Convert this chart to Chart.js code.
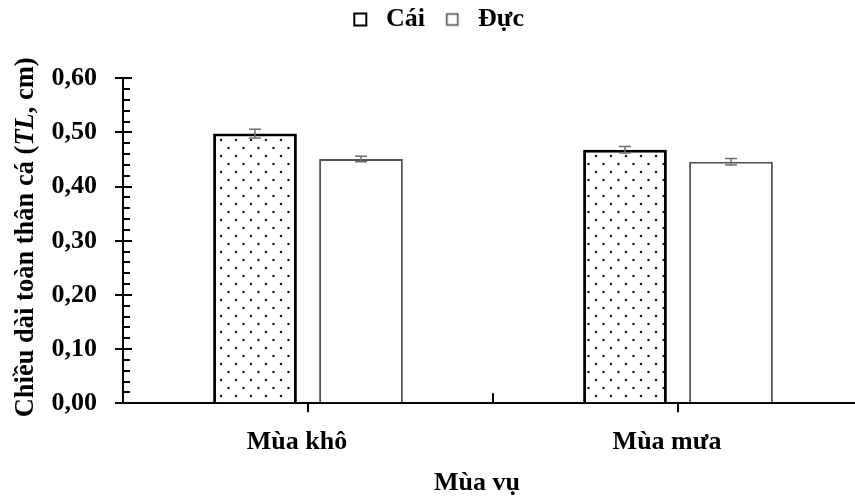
<!DOCTYPE html>
<html lang="vi">
<head>
<meta charset="utf-8">
<script src="https://cdn.jsdelivr.net/npm/chart.js@4.4.1/dist/chart.umd.min.js"></script>
<style>
  html, body { margin: 0; padding: 0; background: #fff; overflow: hidden; }
  #wrap { width: 863px; height: 496px; }
</style>
</head>
<body>
<div id="wrap"><canvas id="chart" width="863" height="496"></canvas></div>
<script>
// Mean total length (cm) by season and sex, with standard errors
const seasons = ['Mùa khô', 'Mùa mưa'];
const seriesNames = ['Cái', 'Đực'];
const femaleMean = [0.498, 0.468];
const femaleSE = [0.008, 0.006];
const maleMean = [0.451, 0.446];
const maleSE = [0.005, 0.006];
const yTickLabels = ['0,00', '0,10', '0,20', '0,30', '0,40', '0,50', '0,60'];
const yTitleParts = [['Chiều dài toàn thân cá (', false], ['TL', true], [', cm)', false]];
const xTitle = 'Mùa vụ';

const FONT = '"Liberation Serif", "Times New Roman", serif';
const PLOT_TOP = 78.3;

// Staggered dot fill for the female bars
function dotPattern() {
  const tile = document.createElement('canvas');
  tile.width = 15; tile.height = 16;
  const c = tile.getContext('2d');
  c.fillStyle = '#fff';
  c.fillRect(0, 0, 15, 16);
  c.fillStyle = '#1a1a1a';
  [[3.5, 4], [11, 12]].forEach(([x, y]) => {
    c.beginPath(); c.arc(x, y, 1.25, 0, Math.PI * 2); c.fill();
  });
  return c.createPattern(tile, 'repeat');
}

// Square legend markers, with some space before the square
function legendIcon(kind) {
  const cv = document.createElement('canvas');
  cv.width = 34; cv.height = 16;
  const c = cv.getContext('2d');
  c.fillStyle = '#fff';
  c.fillRect(15, 2, 12, 12);
  if (kind === 0) {
    c.strokeStyle = '#000'; c.lineWidth = 2;
    c.strokeRect(15, 2, 12, 12);
    c.fillStyle = '#000';
    c.fillRect(14, 2, 2, 13);
    c.fillRect(14, 13, 13, 2);
  } else {
    c.strokeStyle = '#444'; c.lineWidth = 1.5;
    c.strokeRect(15.5, 2.5, 11, 11);
  }
  return cv;
}
const legendIcons = [legendIcon(0), legendIcon(1)];
const errors = [femaleSE, maleSE];

// Leave the band between the legend and the plot empty
const legendSpacing = {
  id: 'legendSpacing',
  afterInit(chart) {
    const lg = chart.legend;
    if (!lg) return;
    const fit = lg.fit.bind(lg);
    lg.fit = function () { fit(); this.height = PLOT_TOP; };
  }
};

const errorBars = {
  id: 'errorBars',
  afterDatasetsDraw(chart) {
    const {ctx, scales: {y}} = chart;
    ctx.save();
    ctx.strokeStyle = '#6f6f6f';
    ctx.lineWidth = 1.5;
    chart.data.datasets.forEach((ds, di) => {
      const meta = chart.getDatasetMeta(di);
      meta.data.forEach((bar, i) => {
        const v = ds.data[i], e = errors[di][i];
        const yTop = y.getPixelForValue(v + e);
        const yBot = y.getPixelForValue(v - e);
        const x = bar.x, w = 6;
        ctx.beginPath();
        ctx.moveTo(x, yTop); ctx.lineTo(x, yBot);
        ctx.moveTo(x - w, yTop); ctx.lineTo(x + w, yTop);
        ctx.moveTo(x - w, yBot); ctx.lineTo(x + w, yBot);
        ctx.stroke();
      });
    });
    ctx.restore();
  }
};

const axisDecor = {
  id: 'axisDecor',
  afterDraw(chart) {
    const {ctx, chartArea: a, scales: {x, y}} = chart;
    ctx.save();
    // inner ticks on the value axis: every 0.02, longer at every 0.1
    ctx.strokeStyle = '#000';
    ctx.lineWidth = 2;
    for (let i = 0; i <= 30; i++) {
      const py = Math.round(y.getPixelForValue(i * 0.02));
      const len = i % 5 === 0 ? 9 : 7;
      ctx.beginPath();
      ctx.moveTo(a.left, py); ctx.lineTo(a.left + len, py);
      ctx.stroke();
    }
    // upward tick at the boundary between the two seasons
    const bx = Math.round((x.getPixelForValue(0) + x.getPixelForValue(1)) / 2);
    ctx.beginPath();
    ctx.moveTo(bx, a.bottom); ctx.lineTo(bx, a.bottom - 10);
    ctx.stroke();

    // axis titles
    ctx.fillStyle = '#000';
    ctx.textBaseline = 'alphabetic';
    const size = 26.5;
    const fontFor = it => (it ? 'italic ' : '') + 'bold ' + size + 'px ' + FONT;
    let total = 0;
    yTitleParts.forEach(([t, it]) => { ctx.font = fontFor(it); total += ctx.measureText(t).width; });
    ctx.save();
    ctx.translate(33, a.top + 159);
    ctx.rotate(-Math.PI / 2);
    let cx = -total / 2;
    ctx.textAlign = 'left';
    yTitleParts.forEach(([t, it]) => {
      ctx.font = fontFor(it);
      ctx.fillText(t, cx, 0);
      cx += ctx.measureText(t).width;
    });
    ctx.restore();

    ctx.font = 'bold 26px ' + FONT;
    ctx.textAlign = 'center';
    ctx.fillText(xTitle, a.left + 354, 490);
    ctx.restore();
  }
};

new Chart(document.getElementById('chart'), {
  type: 'bar',
  data: {
    labels: seasons,
    datasets: [
      {
        label: seriesNames[0],
        data: femaleMean,
        backgroundColor: dotPattern(),
        borderColor: '#000',
        borderWidth: 3,
        categoryPercentage: 0.573,
        barPercentage: 0.79
      },
      {
        label: seriesNames[1],
        data: maleMean,
        backgroundColor: '#fff',
        borderColor: '#555',
        borderWidth: 2,
        categoryPercentage: 0.573,
        barPercentage: 0.79
      }
    ]
  },
  options: {
    responsive: false,
    animation: false,
    devicePixelRatio: 1,
    layout: { padding: { left: 0.5, top: 0, right: 0, bottom: 0 } },
    plugins: {
      tooltip: { enabled: false },
      legend: {
        position: 'top',
        labels: {
          usePointStyle: true,
          pointStyleWidth: 33.5,
          padding: 6.5,
          color: '#000',
          font: { family: FONT, size: 26, weight: 'bold' },
          generateLabels(chart) {
            const items = Chart.defaults.plugins.legend.labels.generateLabels(chart);
            items.forEach((it, i) => { it.pointStyle = legendIcons[i]; });
            return items;
          }
        }
      }
    },
    scales: {
      x: {
        ticks: {
          color: '#000',
          font: { family: FONT, size: 26, weight: 'bold' },
          padding: 14,
          labelOffset: -11,
          maxRotation: 0
        },
        grid: { offset: false, drawOnChartArea: false, drawTicks: true, tickLength: 9, color: '#000', lineWidth: 2 },
        border: { display: true, color: '#000', width: 2 },
        afterFit(s) { s.height = 92.7; }
      },
      y: {
        min: 0,
        max: 0.6,
        ticks: {
          stepSize: 0.1,
          color: '#000',
          font: { family: FONT, size: 26, weight: 'bold' },
          padding: 18,
          callback: v => yTickLabels[Math.round(v * 10)]
        },
        grid: { drawOnChartArea: false, drawTicks: true, tickLength: 8, color: '#000', lineWidth: 2 },
        border: { display: true, color: '#000', width: 2 },
        afterFit(s) { s.width = 122.5; }
      }
    }
  },
  plugins: [legendSpacing, errorBars, axisDecor]
});
</script>
</body>
</html>
